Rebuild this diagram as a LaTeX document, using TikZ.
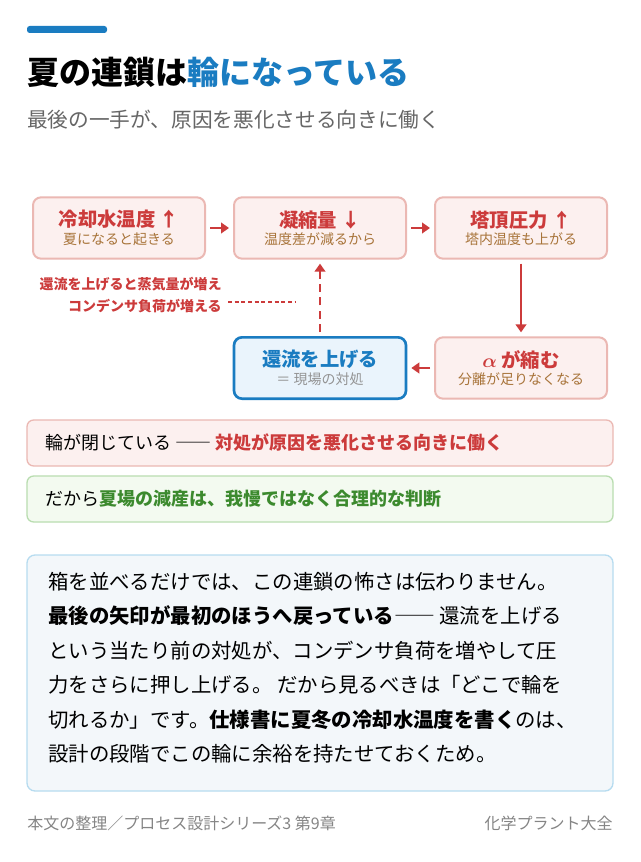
\documentclass[tikz,border=0pt]{standalone}
\usepackage{amsmath,amssymb}
\usepackage{fontspec}
\setmainfont{Noto Sans CJK JP}
\usetikzlibrary{positioning,arrows.meta}
\definecolor{red1}{HTML}{CC3B3B}
\definecolor{redbg}{HTML}{FCF0EF}
\definecolor{redln}{HTML}{EBB8B3}
\definecolor{blue1}{HTML}{1A7CC1}
\definecolor{bluebg}{HTML}{EAF4FC}
\definecolor{brown1}{HTML}{A8743A}
\definecolor{green1}{HTML}{3C8A2E}
\definecolor{greenbg}{HTML}{F3FAF0}
\definecolor{greenln}{HTML}{B9DDB0}
\definecolor{textbg}{HTML}{F3F7FA}
\definecolor{textln}{HTML}{B7DCF0}
\definecolor{grey1}{HTML}{666666}
\tikzset{
  box/.style={draw=redln, fill=redbg, line width=1.5pt, rounded corners=6pt,
    minimum width=129pt, minimum height=46pt, align=center, inner sep=0pt},
  bluebox/.style={box, draw=blue1, fill=bluebg, line width=2pt},
  flow/.style={-{Triangle[length=6pt,width=8pt]}, red1, line width=2.2pt, shorten >=3pt, shorten <=3pt},
}
\newcommand{\boxtext}[3]{{\color{#1}\bfseries\fontsize{14.5}{17}\selectfont #2}\\[1pt]{\fontsize{10.5}{13}\selectfont #3}}
\begin{document}
\begin{tikzpicture}[x=0.75pt,y=-0.75pt]
\useasboundingbox (0,0) rectangle (640,862);
\fill[white] (0,0) rectangle (640,862);
% header
\fill[blue1, rounded corners=2pt] (27,26) rectangle (107,33);
\node[anchor=west, inner sep=0pt, font=\bfseries\fontsize{24}{28}\selectfont] (title) at (27,72) {夏の連鎖は{\color{blue1}輪になっている}};
\node[anchor=west, inner sep=0pt, text=grey1, font=\fontsize{15.5}{19}\selectfont] (subtitle) at (27,120) {最後の一手が、原因を悪化させる向きに働く};
% loop
\node[box] (cool) at (119,228) {\boxtext{red1}{冷却水温度 ↑}{\color{brown1}夏になると起きる}};
\node[box] (cond) at (320,228) {\boxtext{red1}{凝縮量 ↓}{\color{brown1}温度差が減るから}};
\node[box] (press) at (521,228) {\boxtext{red1}{塔頂圧力 ↑}{\color{brown1}塔内温度も上がる}};
\node[box] (alpha) at (521,368) {\boxtext{red1}{$\boldsymbol{\alpha}$ が縮む}{\color{brown1}分離が足りなくなる}};
\node[bluebox] (reflux) at (320,368) {\boxtext{blue1}{還流を上げる}{\color{grey1!70}＝ 現場の対処}};
\draw[flow] (cool) -- (cond);
\draw[flow] (cond) -- (press);
\draw[flow] (press) -- (alpha);
\draw[flow] (alpha) -- (reflux);
\draw[flow, dash pattern=on 6pt off 4pt] (reflux) -- (cond);
\node[anchor=east, inner sep=0pt, align=right, text=red1, font=\bfseries\fontsize{10.5}{16.5}\selectfont] (note) at (222,295) {還流を上げると蒸気量が増え\\コンデンサ負荷が増える};
\coordinate (noteend) at (295,302);
\draw[red1, line width=1pt, dash pattern=on 3pt off 2pt] (228,302) -- (noteend);
% summary bars
\draw[redln, fill=redbg, line width=1pt, rounded corners=5pt] (27,420) rectangle (613,466);
\node[anchor=west, inner sep=0pt, font=\fontsize{13.5}{16}\selectfont] (closed) at (45,443) {輪が閉じている ―― {\color{red1}\bfseries 対処が原因を悪化させる向きに働く}};
\draw[greenln, fill=greenbg, line width=1pt, rounded corners=5pt] (27,476) rectangle (613,522);
\node[anchor=west, inner sep=0pt, font=\fontsize{13.5}{16}\selectfont] (cut) at (45,499) {だから{\color{green1}\bfseries 夏場の減産は、我慢ではなく合理的な判断}};
% text
\draw[textln, fill=textbg, line width=1pt, rounded corners=6pt] (27,555) rectangle (613,791);
\node[anchor=north west, inner sep=0pt, align=left, font=\fontsize{15.3}{25.8}\selectfont] (body) at (48,572) {%
箱を並べるだけでは、この連鎖の怖さは伝わりません。\\
\textbf{最後の矢印が最初のほうへ戻っている}―― 還流を上げる\\
という当たり前の対処が、コンデンサ負荷を増やして圧\\
力をさらに押し上げる。 だから見るべきは「どこで輪を\\
切れるか」です。\textbf{仕様書に夏冬の冷却水温度を書く}のは、\\
設計の段階でこの輪に余裕を持たせておくため。};
% footer
\node[anchor=west, inner sep=0pt, text=grey1!80, font=\fontsize{12}{14}\selectfont] (src) at (27,823) {本文の整理／プロセス設計シリーズ3 第9章};
\node[anchor=east, inner sep=0pt, text=grey1!80, font=\fontsize{12}{14}\selectfont] (brand) at (613,823) {化学プラント大全};
\end{tikzpicture}
\end{document}
